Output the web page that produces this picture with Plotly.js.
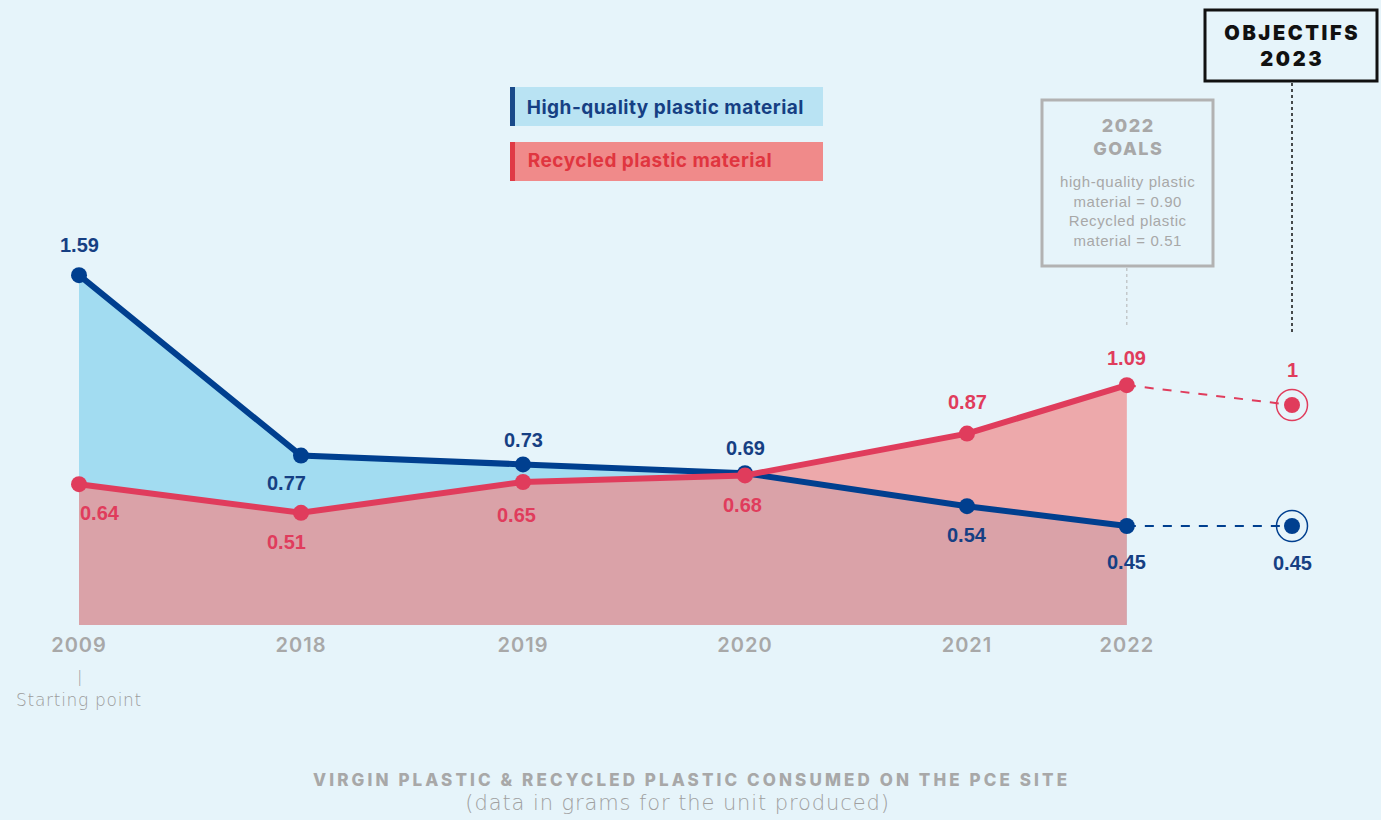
<!DOCTYPE html>
<html>
<head>
<meta charset="utf-8">
<script src="https://cdn.plot.ly/plotly-3.0.1.min.js"></script>
<style>html,body{margin:0;padding:0;background:#e6f4fa;}#chart{width:1381px;height:820px;}</style>
</head>
<body>
<div id="chart"></div>
<script>
// ---- data ----
const years = ['2009', '2018', '2019', '2020', '2021', '2022'];
const highQuality = [1.59, 0.77, 0.73, 0.69, 0.54, 0.45];
const recycled = [0.64, 0.51, 0.65, 0.68, 0.87, 1.09];
const goalLabel = '2023';
const goalHighQuality = 0.45;
const goalRecycled = 1;
const goals2022 = [0.90, 0.51];
const seriesNames = ['High-quality plastic material', 'Recycled plastic material'];

// ---- axis slot for each category (uneven spacing as in the original) ----
const slots = [0, 1, 2, 3, 4, 4.72];
const goalSlot = 5.464;

// ---- styles ----
const BG = '#e6f4fa';
const BLUE = '#003f8f';
const BLUE_TXT = '#163f83';
const RED = '#e03c5c';
const GREY = '#a8a8a8';
const fLab = 'Liberation Sans, Arial, sans-serif';
const fGeo = 'Inter, Lato, sans-serif';
const fLight = 'DejaVu Sans, Inter, sans-serif';
const W = 1381, H = 820;
const px = v => v / W;
const py = v => 1 - v / H;

const lastX = slots[slots.length - 1];
const lastHQ = highQuality[highQuality.length - 1];
const lastRec = recycled[recycled.length - 1];

const traces = [
  {x: slots, y: highQuality, mode: 'lines', line: {width: 0}, fill: 'tozeroy', fillcolor: '#a2dcf1', hoverinfo: 'skip'},
  {x: slots, y: recycled, mode: 'lines', line: {width: 0}, fill: 'tozeroy', fillcolor: 'rgba(240,140,140,0.72)', hoverinfo: 'skip'},
  {x: [lastX, goalSlot], y: [lastRec, goalRecycled], mode: 'lines', line: {color: RED, width: 2, dash: 'dash'}, hoverinfo: 'skip'},
  {x: [lastX, goalSlot], y: [lastHQ, goalHighQuality], mode: 'lines', line: {color: BLUE, width: 2, dash: 'dash'}, hoverinfo: 'skip'},
  {x: slots, y: highQuality, name: seriesNames[0], mode: 'lines+markers', line: {color: BLUE, width: 6}, marker: {color: BLUE, size: 16}, hoverinfo: 'skip'},
  {x: slots, y: recycled, name: seriesNames[1], mode: 'lines+markers', line: {color: RED, width: 6}, marker: {color: RED, size: 16}, hoverinfo: 'skip'},
  {x: [goalSlot, goalSlot], y: [goalRecycled, goalHighQuality], mode: 'markers',
   marker: {symbol: 'circle-open', size: 31, color: [RED, BLUE], line: {width: 1.5, color: [RED, BLUE]}}, hoverinfo: 'skip'},
  {x: [goalSlot, goalSlot], y: [goalRecycled, goalHighQuality], mode: 'markers',
   marker: {symbol: 'circle', size: 16, color: [RED, BLUE]}, hoverinfo: 'skip'}
];

// label offsets (style only)
const hqShift = [[0, -30], [-15, 27], [0, -24], [0, -25], [0, 29], [0, 36]];
const recShift = [[21, 29], [-15, 29], [-7, 33], [-3, 30], [0, -32], [0, -27]];

const annotations = [];
const spacing = {};
function addAnn(a, ls) {
  if (ls) spacing[annotations.length] = ls;
  annotations.push(Object.assign({showarrow: false, xanchor: 'center'}, a));
}
const fmt = v => v.toFixed(2);
const labFont = c => ({family: fLab, size: 20, color: c, weight: 'bold'});
highQuality.forEach((v, i) => addAnn({x: slots[i], y: v, text: fmt(v),
  xshift: hqShift[i][0], yshift: -hqShift[i][1], font: labFont(BLUE_TXT)}));
recycled.forEach((v, i) => addAnn({x: slots[i], y: v, text: fmt(v),
  xshift: recShift[i][0], yshift: -recShift[i][1], font: labFont(RED)}));
addAnn({x: goalSlot, y: goalRecycled, text: String(goalRecycled), yshift: 35, font: labFont(RED)});
addAnn({x: goalSlot, y: goalHighQuality, text: fmt(goalHighQuality), yshift: -37, font: labFont(BLUE_TXT)});

// legend texts
addAnn({xref: 'paper', yref: 'paper', x: px(532), y: py(107), xanchor: 'left', yanchor: 'middle',
  text: seriesNames[0], font: {family: fGeo, size: 19, color: BLUE_TXT, weight: 700}}, '0.5px');
addAnn({xref: 'paper', yref: 'paper', x: px(532), y: py(161), xanchor: 'left', yanchor: 'middle',
  text: seriesNames[1], font: {family: fGeo, size: 19, color: '#e0353f', weight: 700}}, '0.5px');

// goals box texts
addAnn({xref: 'paper', yref: 'paper', x: px(1128), y: py(137), yanchor: 'middle',
  text: '2022<br>GOALS', font: {family: fGeo, size: 18, color: GREY, weight: 800}}, '1.5px');
addAnn({xref: 'paper', yref: 'paper', x: px(1128), y: py(211), yanchor: 'middle',
  text: 'high-quality plastic<br>material = ' + goals2022[0].toFixed(2) + '<br>Recycled plastic<br>material = ' + goals2022[1].toFixed(2),
  font: {family: fLab, size: 15, color: GREY}}, '0.6px');

// objectifs box text
addAnn({xref: 'paper', yref: 'paper', x: px(1292), y: py(46), yanchor: 'middle',
  text: 'OBJECTIFS<br>' + goalLabel, font: {family: fGeo, size: 20, color: '#111111', weight: 900}}, '2.6px');

// starting point
addAnn({x: slots[0], xref: 'x', yref: 'paper', y: py(676), yanchor: 'middle',
  text: '|', font: {family: fLight, size: 16, color: '#9c9c9c', weight: 200}});
addAnn({x: slots[0], xref: 'x', yref: 'paper', y: py(700), yanchor: 'middle',
  text: 'Starting point', font: {family: fLight, size: 17, color: '#9c9c9c', weight: 200}}, '0.7px');

// footer
addAnn({xref: 'paper', yref: 'paper', x: px(691), y: py(780), yanchor: 'middle',
  text: 'VIRGIN PLASTIC & RECYCLED PLASTIC CONSUMED ON THE PCE SITE', font: {family: fGeo, size: 17, color: GREY, weight: 800}}, '3.1px');
addAnn({xref: 'paper', yref: 'paper', x: px(677), y: py(803), yanchor: 'middle',
  text: '(data in grams for the unit produced)', font: {family: fLight, size: 21, color: '#a0a0a0', weight: 200}}, '0.9px');

const shapes = [
  {type: 'rect', xref: 'paper', yref: 'paper', x0: px(510), x1: px(823), y0: py(126), y1: py(87), fillcolor: '#b9e3f3', line: {width: 0}, layer: 'below'},
  {type: 'rect', xref: 'paper', yref: 'paper', x0: px(510), x1: px(515), y0: py(126), y1: py(87), fillcolor: '#1a4a8a', line: {width: 0}, layer: 'below'},
  {type: 'rect', xref: 'paper', yref: 'paper', x0: px(510), x1: px(823), y0: py(181), y1: py(142), fillcolor: '#f08a8a', line: {width: 0}, layer: 'below'},
  {type: 'rect', xref: 'paper', yref: 'paper', x0: px(510), x1: px(515), y0: py(181), y1: py(142), fillcolor: '#e03a45', line: {width: 0}, layer: 'below'},
  {type: 'rect', xref: 'paper', yref: 'paper', x0: px(1042), x1: px(1213), y0: py(266), y1: py(100), line: {color: '#b2b2b2', width: 3}},
  {type: 'line', xref: 'x', yref: 'paper', x0: lastX, x1: lastX, y0: py(268), y1: py(325), line: {color: '#b2b2b2', width: 1, dash: 'dot'}},
  {type: 'rect', xref: 'paper', yref: 'paper', x0: px(1205), x1: px(1377), y0: py(81), y1: py(10), fillcolor: BG, line: {color: '#111111', width: 3}},
  {type: 'line', xref: 'x', yref: 'paper', x0: goalSlot, x1: goalSlot, y0: py(83), y1: py(335), line: {color: '#111111', width: 1.5, dash: 'dot'}}
];

const layout = {
  width: W, height: H,
  margin: {l: 0, r: 0, t: 0, b: 0, pad: 0},
  paper_bgcolor: BG, plot_bgcolor: BG,
  showlegend: false,
  xaxis: {range: [-0.3559, 5.8649], tickvals: slots, ticktext: years, showgrid: false, zeroline: false, showline: false,
    ticks: '', anchor: 'free', position: 0.231, fixedrange: true,
    tickfont: {family: fGeo, size: 20, color: GREY, weight: 600}},
  yaxis: {range: [-0.8864, 2.8409], visible: false, showgrid: false, zeroline: false, fixedrange: true},
  annotations: annotations,
  shapes: shapes
};

Plotly.newPlot('chart', traces, layout, {displayModeBar: false, staticPlot: true}).then(gd => {
  gd.querySelectorAll('g.annotation').forEach(g => {
    const i = +g.getAttribute('data-index');
    const t = g.querySelector('text');
    if (t && spacing[i]) t.style.letterSpacing = spacing[i];
  });
  gd.querySelectorAll('.xtick text').forEach(t => { t.style.letterSpacing = '1px'; });
});
</script>
</body>
</html>
